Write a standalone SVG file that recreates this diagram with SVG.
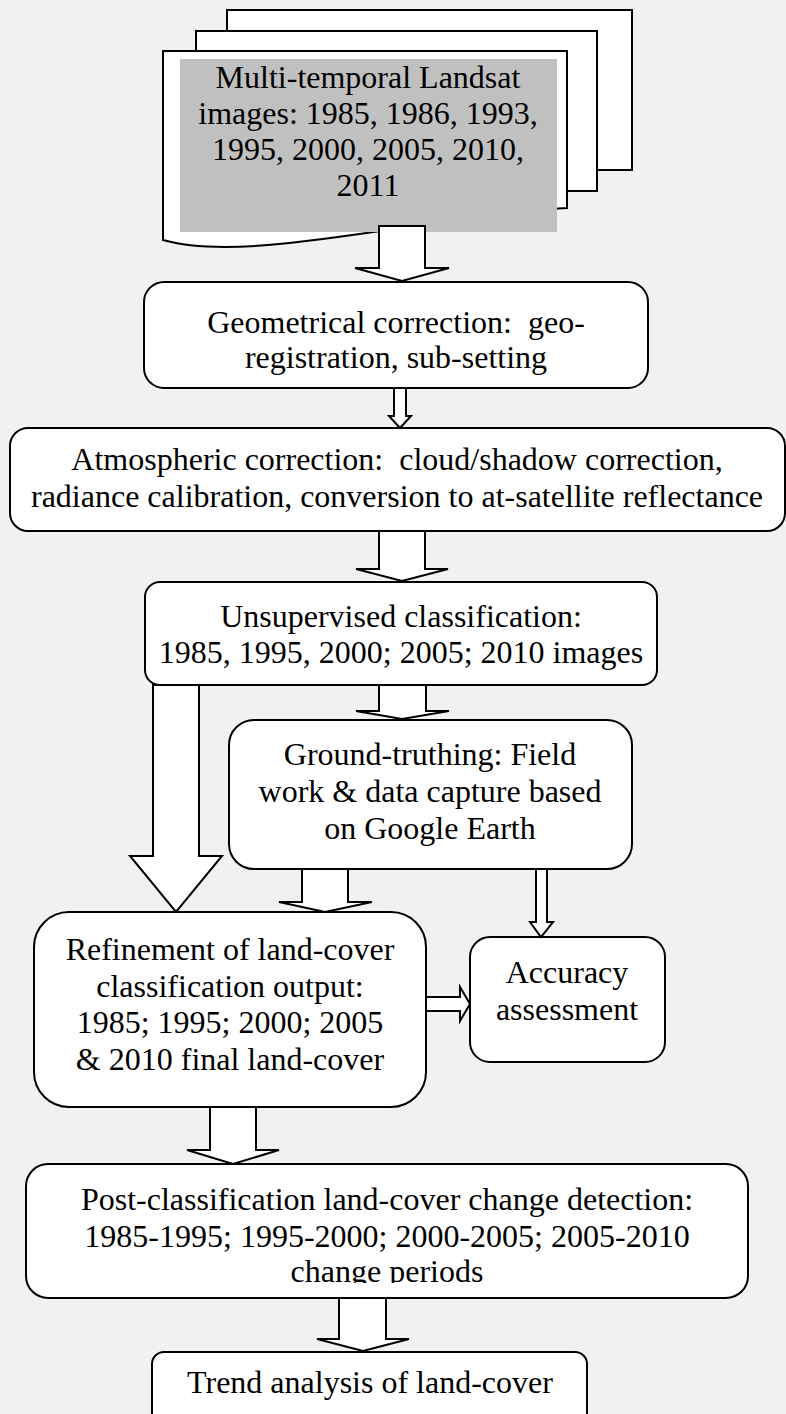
<svg xmlns="http://www.w3.org/2000/svg" width="786" height="1414" viewBox="0 0 786 1414">
<style>
.bg{fill:#f1f1f1}
.box{fill:#fff;stroke:#000;stroke-width:2}
.arr{fill:#fff;stroke:#000;stroke-width:2;stroke-linejoin:miter}
.t{font-family:"Liberation Serif","Times New Roman",serif;font-size:32px;fill:#000;text-anchor:middle;white-space:pre}
</style>
<defs>
<clipPath id="clipPost"><rect x="26" y="1164" width="722" height="119"/></clipPath>
</defs>
<rect class="bg" x="0" y="0" width="786" height="1414"/>

<g id="node-images">
<rect class="box" x="227" y="10" width="405" height="160"/>
<rect class="box" x="196" y="31" width="401" height="160"/>
<path class="box" d="M163,51 H567 V208 C430,215 250,265 163,240 Z"/>
<rect x="180" y="59" width="377" height="173" fill="#c0c0c0"/>
<text class="t" x="368" y="88">Multi-temporal Landsat</text>
<text class="t" x="368" y="124">images: 1985, 1986, 1993,</text>
<text class="t" x="368" y="160">1995, 2000, 2005, 2010,</text>
<text class="t" x="368" y="196">2011</text>
</g>

<g id="node-geo">
<rect class="box" x="144" y="282" width="504" height="106" rx="20"/>
<text class="t" x="396" y="333" xml:space="preserve">Geometrical correction:  geo-</text>
<text class="t" x="396" y="368">registration, sub-setting</text>
</g>

<g id="node-atmos">
<rect class="box" x="10" y="428" width="775" height="103" rx="18"/>
<text class="t" x="397" y="470" xml:space="preserve">Atmospheric correction:  cloud/shadow correction,</text>
<text class="t" x="397" y="507">radiance calibration, conversion to at-satellite reflectance</text>
</g>

<g id="node-unsup">
<rect class="box" x="145" y="582" width="512" height="103" rx="15"/>
<text class="t" x="401" y="627">Unsupervised classification:</text>
<text class="t" x="401" y="663">1985, 1995, 2000; 2005; 2010 images</text>
</g>

<g id="node-ground">
<rect class="box" x="229" y="720" width="403" height="149" rx="25"/>
<text class="t" x="430" y="765">Ground-truthing: Field</text>
<text class="t" x="430" y="802">work &amp; data capture based</text>
<text class="t" x="430" y="839">on Google Earth</text>
</g>

<g id="node-refine">
<rect class="box" x="34" y="912" width="392" height="195" rx="35"/>
<text class="t" x="230" y="960">Refinement of land-cover</text>
<text class="t" x="230" y="997">classification output:</text>
<text class="t" x="230" y="1033">1985; 1995; 2000; 2005</text>
<text class="t" x="230" y="1070">&amp; 2010 final land-cover</text>
</g>

<g id="node-accuracy">
<rect class="box" x="470" y="937" width="195" height="125" rx="20"/>
<text class="t" x="567" y="983">Accuracy</text>
<text class="t" x="567" y="1020">assessment</text>
</g>

<g id="node-post">
<rect class="box" x="26" y="1164" width="722" height="134" rx="22"/>
<g clip-path="url(#clipPost)">
<text class="t" x="387" y="1210">Post-classification land-cover change detection:</text>
<text class="t" x="387" y="1247">1985-1995; 1995-2000; 2000-2005; 2005-2010</text>
<text class="t" x="387" y="1282">change periods</text>
</g>
</g>

<g id="node-trend">
<rect class="box" x="152" y="1352" width="435" height="100" rx="12"/>
<text class="t" x="370" y="1393">Trend analysis of land-cover</text>
</g>

<g id="connectors">
<polygon class="arr" points="379,226 425,226 425,268 449,268 402,281 355,268 379,268"/>
<polygon class="arr" points="394,388 406,388 406,416 411,416 400,428 389,416 394,416"/>
<polygon class="arr" points="379,531 425,531 425,569 448,569 402,581 356,569 379,569"/>
<polygon class="arr" points="153,685 199,685 199,856 222,856 176,912 130,856 153,856"/>
<polygon class="arr" points="379,685 426,685 426,711 449,711 402,719 356,711 379,711"/>
<polygon class="arr" points="302,869 348,869 348,902 372,902 325,912 279,902 302,902"/>
<polygon class="arr" points="536,869 547,869 547,922 553,922 541,937 530,922 536,922"/>
<polygon class="arr" points="426,997 460,997 460,987 470,1004 460,1021 460,1011 426,1011"/>
<polygon class="arr" points="210,1107 256,1107 256,1150 279,1150 233,1164 187,1150 210,1150"/>
<polygon class="arr" points="339,1298 386,1298 386,1339 409,1339 363,1351 317,1339 339,1339"/>
</g>
</svg>
